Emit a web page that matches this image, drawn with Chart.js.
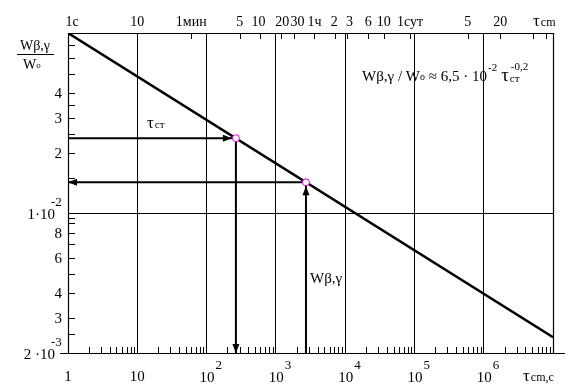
<!DOCTYPE html>
<html>
<head>
<meta charset="utf-8">
<script src="https://cdn.jsdelivr.net/npm/chart.js@4/dist/chart.umd.min.js"></script>
<style>
  html, body { margin: 0; padding: 0; background: #fff; }
  #wrap { width: 571px; height: 391px; }
</style>
</head>
<body>
<div id="wrap"><canvas id="chart0"></canvas></div>
<script>
// axis ranges
var xMin = 1, xMax = 1e7;
var yMin = 0.002, yMax = 0.08;

// the straight line W/Wo(t)
var lineX = [1, 1e7];
var lineY = [0.08, 0.0024];

// the two marked points
var pointX = [265, 2720];
var pointY = [0.0238, 0.0143];

// bottom axis (seconds)
var bottomTickValues = [1, 10, 100, 1000, 10000, 100000, 1000000];
var bottomTickBase = ['1', '10', '10', '10', '10', '10', '10'];
var bottomTickExp = ['', '', '2', '3', '4', '5', '6'];

// top axis (time units)
var topTickValues = [1, 10, 60, 300, 600, 1200, 1800, 3600, 7200, 10800, 21600, 36000, 86400, 590000, 1728000];
var topTickLabels = ['1c', '10', '1мин', '5', '10', '20', '30', '1ч', '2', '3', '6', '10', '1сут', '5', '20'];
var topExtraTicks = [5200000, 7800000];

// left axis
var leftTickValues = [0.04, 0.03, 0.02, 0.01, 0.008, 0.006, 0.004, 0.003, 0.002];
var leftTickLabels = ['4', '3', '2', '1·10', '8', '6', '4', '3', '2 ·10'];
var leftTickExp = ['', '', '', '-2', '', '', '', '', '-3'];
var leftMinorTicks = [0.07, 0.06, 0.05, 0.035, 0.025, 0.015, 0.0095, 0.009, 0.007, 0.005, 0.0025];

var serif = '"Liberation Serif", "DejaVu Serif", serif';

function txt(ctx, s, x, y, size, align) {
    ctx.font = size + 'px ' + serif;
    ctx.textAlign = align || 'left';
    ctx.textBaseline = 'alphabetic';
    ctx.fillText(s, x, y);
    return ctx.measureText(s).width;
}

function arrowHead(ctx, x0, y0, x1, y1, back) {
    var a = Math.atan2(y1 - y0, x1 - x0);
    var tx = x1 - Math.cos(a) * back, ty = y1 - Math.sin(a) * back;
    var len = 9, w = 3.5;
    ctx.beginPath();
    ctx.moveTo(tx, ty);
    ctx.lineTo(tx - Math.cos(a) * len - Math.sin(a) * w, ty - Math.sin(a) * len + Math.cos(a) * w);
    ctx.lineTo(tx - Math.cos(a) * len + Math.sin(a) * w, ty - Math.sin(a) * len - Math.cos(a) * w);
    ctx.closePath();
    ctx.fill();
}

var decorPlugin = {
    id: 'decor',
    afterDatasetsDraw: function(chart) {
        var ctx = chart.ctx;
        var xs = chart.scales.x, ys = chart.scales.y;
        var a = chart.chartArea;
        ctx.save();
        ctx.fillStyle = '#000';
        ctx.strokeStyle = '#000';

        // arrow heads
        chart.data.datasets.forEach(function(ds, i) {
            if (!ds.arrow) return;
            var pts = chart.getDatasetMeta(i).data;
            var p0 = pts[pts.length - 2], p1 = pts[pts.length - 1];
            arrowHead(ctx, p0.x, p0.y, p1.x, p1.y, ds.arrowBack);
        });

        // frame
        ctx.lineWidth = 1.2;
        ctx.beginPath();
        ctx.moveTo(a.left - 8, a.bottom + 0.5); ctx.lineTo(a.right + 12, a.bottom + 0.5);
        ctx.moveTo(a.left + 0.5, a.top); ctx.lineTo(a.left + 0.5, a.bottom);
        ctx.moveTo(a.left, a.top + 0.5); ctx.lineTo(a.right, a.top + 0.5);
        ctx.moveTo(a.right + 0.5, a.top); ctx.lineTo(a.right + 0.5, a.bottom);
        ctx.stroke();

        // bottom minor ticks (inward)
        ctx.lineWidth = 1;
        ctx.beginPath();
        for (var d = 1; d < xMax; d *= 10) {
            for (var m = 2; m <= 9; m++) {
                var px = Math.round(xs.getPixelForValue(d * m)) + 0.5;
                ctx.moveTo(px, a.bottom); ctx.lineTo(px, a.bottom - 6);
            }
        }
        // top ticks (inward)
        topTickValues.concat(topExtraTicks).forEach(function(v) {
            var px = Math.round(xs.getPixelForValue(v)) + 0.5;
            ctx.moveTo(px, a.top); ctx.lineTo(px, a.top + 6);
        });
        // left ticks (inward)
        leftTickValues.concat(leftMinorTicks).forEach(function(v) {
            var py = Math.round(ys.getPixelForValue(v)) + 0.5;
            ctx.moveTo(a.left, py); ctx.lineTo(a.left + 7, py);
        });
        ctx.stroke();

        // bottom labels
        bottomTickValues.forEach(function(v, i) {
            var px = xs.getPixelForValue(v);
            if (bottomTickExp[i]) {
                var w = txt(ctx, bottomTickBase[i], px - 7, a.bottom + 29, 15);
                txt(ctx, bottomTickExp[i], px - 7 + w + 1, a.bottom + 16, 13);
            } else {
                txt(ctx, bottomTickBase[i], px, a.bottom + 28, 15, 'center');
            }
        });
        var w1 = txt(ctx, 'τ', 523, a.bottom + 28, 17);
        txt(ctx, 'cm,c', 523 + w1 + 1, a.bottom + 28, 12);

        // top labels (small nudges where labels crowd)
        var nudge = {0: 4, 4: -2, 5: 1, 6: 4, 8: -1, 9: 2};
        topTickValues.forEach(function(v, i) {
            var px = xs.getPixelForValue(v);
            txt(ctx, topTickLabels[i], px + (nudge[i] || 0), a.top - 7, 14, 'center');
        });
        var w2 = txt(ctx, 'τ', 533, a.top - 7, 17);
        txt(ctx, 'cm', 533 + w2 + 1, a.top - 7, 12);

        // left labels
        leftTickValues.forEach(function(v, i) {
            var py = ys.getPixelForValue(v);
            if (leftTickExp[i]) {
                txt(ctx, leftTickLabels[i], 55, py + 6, 15, 'right');
                txt(ctx, leftTickExp[i], 51, py - 7, 13);
            } else {
                txt(ctx, leftTickLabels[i], 62, py + 5, 15, 'right');
            }
        });

        // y axis title
        txt(ctx, 'Wβ,γ', 35, 50, 14, 'center');
        ctx.lineWidth = 1;
        ctx.beginPath();
        ctx.moveTo(17, 54.5); ctx.lineTo(54, 54.5);
        ctx.stroke();
        var w3 = txt(ctx, 'W', 23, 69, 14);
        txt(ctx, 'o', 23 + w3, 68, 9);

        // plot annotations
        var w4 = txt(ctx, 'τ', 147, 128, 17);
        txt(ctx, 'ст', 147 + w4 + 1, 128, 11);
        txt(ctx, 'Wβ,γ', 310, 283, 15);

        // formula
        var x = 362, y = 81;
        x += txt(ctx, 'Wβ,γ / W', x, y, 15);
        x += txt(ctx, 'o', x, y - 1, 10);
        x += txt(ctx, ' ≈ 6,5 · 10', x, y, 15);
        x += txt(ctx, '-2', x + 1, y - 10, 11) + 5;
        x += txt(ctx, 'τ', x, y, 19);
        txt(ctx, 'ст', x + 1, y + 1, 11);
        txt(ctx, '-0,2', x + 2, y - 11, 11);
        ctx.restore();
    }
};

function segment(x0, y0, x1, y1) {
    return [{x: x0, y: y0}, {x: x1, y: y1}];
}

var ctx = document.getElementById('chart0').getContext('2d');
var chart = new Chart(ctx, {
    type: 'scatter',
    data: {
        datasets: [
            {
                data: [{x: pointX[0], y: pointY[0]}, {x: pointX[1], y: pointY[1]}],
                pointRadius: 3.5,
                pointBackgroundColor: '#fff',
                pointBorderColor: '#e000e0',
                pointBorderWidth: 1,
                showLine: false
            },
            {
                data: lineX.map(function(v, i) { return {x: v, y: lineY[i]}; }),
                showLine: true, borderColor: '#000', borderWidth: 2.5, pointRadius: 0
            },
            {
                data: segment(xMin, pointY[0], pointX[0], pointY[0]),
                arrow: true, arrowBack: 4,
                showLine: true, borderColor: '#000', borderWidth: 2, pointRadius: 0
            },
            {
                data: segment(pointX[0], pointY[0], pointX[0], yMin),
                arrow: true, arrowBack: 0,
                showLine: true, borderColor: '#000', borderWidth: 2, pointRadius: 0
            },
            {
                data: segment(pointX[1], yMin, pointX[1], pointY[1]),
                arrow: true, arrowBack: 4,
                showLine: true, borderColor: '#000', borderWidth: 2, pointRadius: 0
            },
            {
                data: segment(pointX[1], pointY[1], xMin, pointY[1]),
                arrow: true, arrowBack: 0,
                showLine: true, borderColor: '#000', borderWidth: 2, pointRadius: 0
            }
        ]
    },
    options: {
        responsive: true,
        maintainAspectRatio: false,
        animation: false,
        layout: { padding: { left: 68, top: 33, right: 18, bottom: 38 } },
        plugins: { legend: { display: false }, tooltip: { enabled: false } },
        scales: {
            x: {
                type: 'logarithmic', min: xMin, max: xMax,
                ticks: { display: false },
                border: { display: false },
                grid: {
                    drawTicks: false,
                    lineWidth: 1,
                    color: function(c) {
                        var v = c.tick ? c.tick.value : 0;
                        var l = Math.log10(v);
                        return Math.abs(l - Math.round(l)) < 1e-9 ? '#000' : 'rgba(0,0,0,0)';
                    }
                }
            },
            y: {
                type: 'logarithmic', min: yMin, max: yMax,
                afterBuildTicks: function(s) {
                    s.ticks = [{value: 0.01}];
                },
                ticks: { display: false },
                border: { display: false },
                grid: { drawTicks: false, lineWidth: 1, color: '#000' }
            }
        }
    },
    plugins: [decorPlugin]
});
</script>
</body>
</html>
